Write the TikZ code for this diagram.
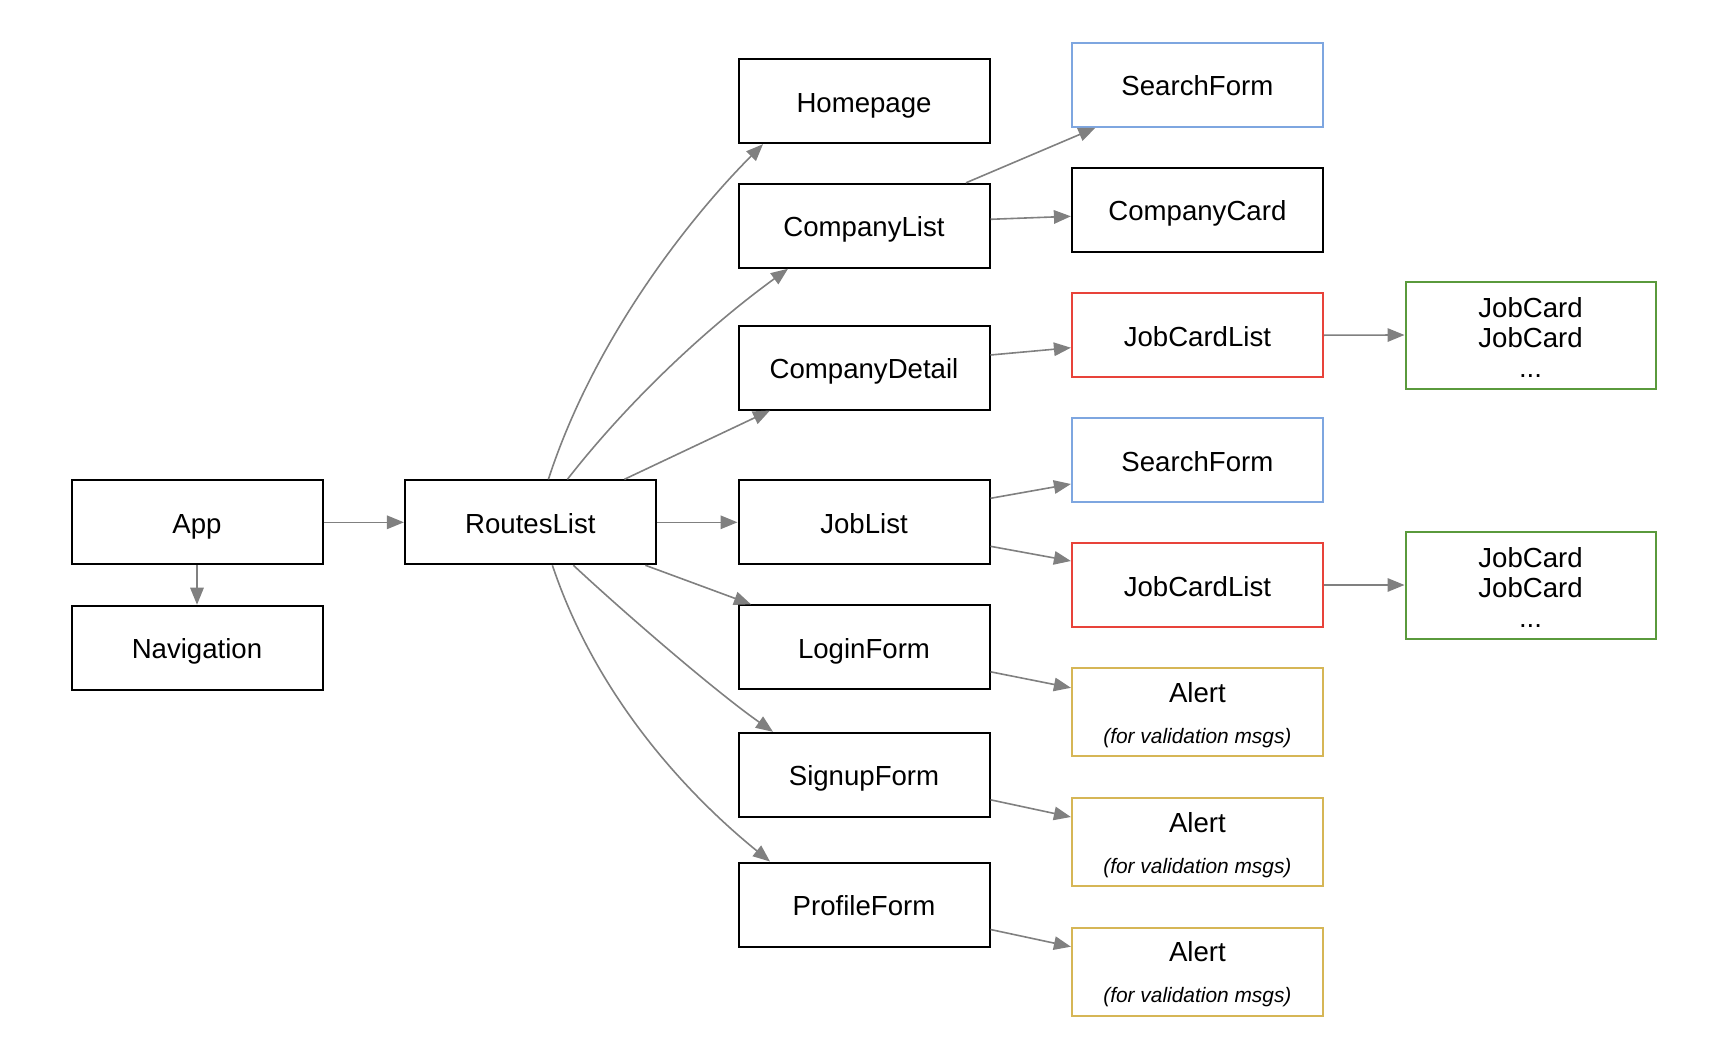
\documentclass[tikz,border=0pt]{standalone}
\usepackage{fontspec}
\setmainfont{Liberation Sans}
\usetikzlibrary{arrows.meta}

\definecolor{edgegray}{HTML}{808080}
\definecolor{boxblue}{HTML}{7EA6E0}
\definecolor{boxred}{HTML}{E8433A}
\definecolor{boxgreen}{HTML}{5A9A3C}
\definecolor{boxgold}{HTML}{D6B656}

\begin{document}
\begin{tikzpicture}[x=1pt,y=1pt,
  comp/.style={draw=black, line width=2pt, fill=white,
    minimum width=251pt, minimum height=84pt, inner sep=0pt,
    text height=22pt, text depth=0pt,
    font=\fontsize{27.6}{30}\selectfont},
  searchbox/.style={comp, draw=boxblue},
  listbox/.style={comp, draw=boxred},
  cardsbox/.style={comp, draw=boxgreen, minimum width=250pt, minimum height=107pt},
  alertbox/.style={comp, draw=boxgold, minimum height=88pt},
  txt/.style={anchor=base, inner sep=0pt, font=\fontsize{27.6}{30}\selectfont},
  note/.style={anchor=base, inner sep=0pt, font=\fontsize{20.9}{24}\selectfont\itshape},
  link/.style={draw=edgegray, line width=1.6pt, -{Triangle[length=17pt,width=13.5pt]}},
]
\useasboundingbox (0,0) rectangle (1710,-1062);

% root and routes
\node[comp] (app)     at (197,-522.3)  {App};
\node[comp] (nav)     at (197,-647.7)  {Navigation};
\node[comp] (routes)  at (530.4,-522.3) {RoutesList};

% pages
\node[comp] (home)    at (864,-101.2) {Homepage};
\node[comp] (clist)   at (864,-225.8) {CompanyList};
\node[comp] (cdetail) at (864,-367.5) {CompanyDetail};
\node[comp] (jlist)   at (864,-522.3) {JobList};
\node[comp] (login)   at (864,-647.3) {LoginForm};
\node[comp] (signup)  at (864,-774.8) {SignupForm};
\node[comp] (profile) at (864,-904.5) {ProfileForm};

% page children
\node[searchbox] (search1) at (1197.4,-84.8)  {SearchForm};
\node[comp]      (ccard)   at (1197.4,-209.8) {CompanyCard};
\node[listbox]   (jcl1)    at (1197.4,-335.2) {JobCardList};
\node[searchbox] (search2) at (1197.4,-460)   {SearchForm};
\node[listbox]   (jcl2)    at (1197.4,-585)   {JobCardList};
\node[alertbox]  (alert1)  at (1197.4,-712.3) {};
\node[alertbox]  (alert2)  at (1197.4,-842)   {};
\node[alertbox]  (alert3)  at (1197.4,-971.7) {};

\node[txt]  (alert1t) at ([yshift=10pt]alert1.center)  {Alert};
\node[note] (alert1n) at ([yshift=-31pt]alert1.center) {(for validation msgs)};
\node[txt]  (alert2t) at ([yshift=10pt]alert2.center)  {Alert};
\node[note] (alert2n) at ([yshift=-31pt]alert2.center) {(for validation msgs)};
\node[txt]  (alert3t) at ([yshift=10pt]alert3.center)  {Alert};
\node[note] (alert3n) at ([yshift=-31pt]alert3.center) {(for validation msgs)};

% job cards
\node[cardsbox] (cards1) at (1530.5,-335) {};
\node[cardsbox] (cards2) at (1530.5,-585) {};
\node[txt] (cards1a) at ([yshift=18pt]cards1.center)  {JobCard};
\node[txt] (cards1b) at ([yshift=-12pt]cards1.center) {JobCard};
\node[txt] (cards1c) at ([yshift=-42pt]cards1.center) {...};
\node[txt] (cards2a) at ([yshift=18pt]cards2.center)  {JobCard};
\node[txt] (cards2b) at ([yshift=-12pt]cards2.center) {JobCard};
\node[txt] (cards2c) at ([yshift=-42pt]cards2.center) {...};

% connectors
\draw[link] (app.east) -- (routes.west);
\draw[link] (app.south) -- (nav.north);
\draw[link] (routes.east) -- (jlist.west);
\draw[link] ([xshift=18pt]routes.north) to[out=72,in=225,out distance=150pt,in distance=100pt] ([xshift=-101pt]home.south);
\draw[link] ([xshift=37pt]routes.north) to[out=52,in=216,out distance=100pt,in distance=100pt] ([xshift=-76pt]clist.south);
\draw[link] ([xshift=94pt]routes.north) -- ([xshift=-94pt]cdetail.south);
\draw[link] ([xshift=115pt]routes.south) -- ([xshift=-113pt]login.north);
\draw[link] ([xshift=43pt]routes.south) to[out=-43,in=145,out distance=70pt,in distance=70pt] ([xshift=-91pt]signup.north);
\draw[link] ([xshift=22pt]routes.south) to[out=-71.5,in=141,out distance=150pt,in distance=90pt] ([xshift=-94pt]profile.north);

\draw[link] ([xshift=102pt]clist.north) -- ([xshift=-102pt]search1.south);
\draw[link] ([yshift=6.5pt]clist.east) -- ([yshift=-6.5pt]ccard.west);
\draw[link] ([yshift=12.5pt]cdetail.east) -- ([yshift=-12.5pt]jcl1.west);
\draw[link] (jcl1.east) -- (cards1.west);
\draw[link] ([yshift=24pt]jlist.east) -- ([yshift=-24pt]search2.west);
\draw[link] ([yshift=-24pt]jlist.east) -- ([yshift=24pt]jcl2.west);
\draw[link] (jcl2.east) -- (cards2.west);
\draw[link] ([yshift=-24.5pt]login.east) -- ([yshift=24.5pt]alert1.west);
\draw[link] ([yshift=-25pt]signup.east) -- ([yshift=25pt]alert2.west);
\draw[link] ([yshift=-25pt]profile.east) -- ([yshift=25pt]alert3.west);
\end{tikzpicture}
\end{document}
